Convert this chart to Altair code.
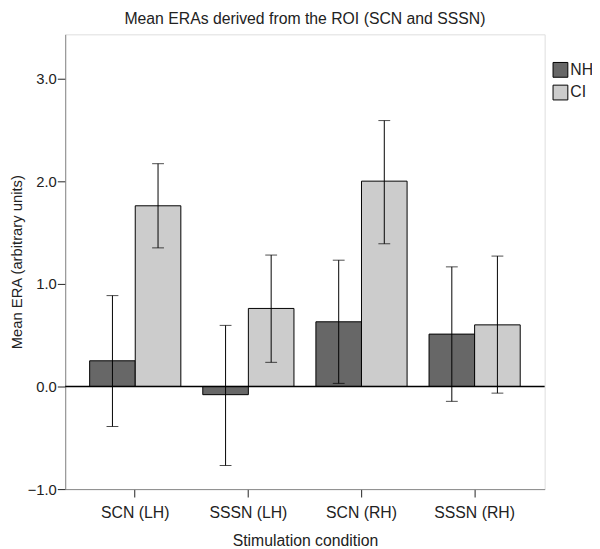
import altair as alt
import pandas as pd

conditions = ["SCN (LH)", "SSSN (LH)", "SCN (RH)", "SSSN (RH)"]
groups = ["NH", "CI"]
nh_mean = [0.25, -0.08, 0.63, 0.51]
nh_lo = [-0.39, -0.77, 0.03, -0.145]
nh_hi = [0.885, 0.595, 1.23, 1.165]
ci_mean = [1.76, 0.76, 2.0, 0.60]
ci_lo = [1.35, 0.235, 1.39, -0.065]
ci_hi = [2.17, 1.28, 2.59, 1.27]
y_ticks = [-1, 0, 1, 2, 3]
colors = ["#676767", "#cccccc"]

rows = []
for i, c in enumerate(conditions):
    rows.append({"cond": c, "group": "NH", "mean": nh_mean[i], "lo": nh_lo[i], "hi": nh_hi[i]})
    rows.append({"cond": c, "group": "CI", "mean": ci_mean[i], "lo": ci_lo[i], "hi": ci_hi[i]})
df = pd.DataFrame(rows)

FONT = "Liberation Sans"
TXT = "#222222"

x_enc = alt.X("cond:N", sort=conditions, title="Stimulation condition",
              scale=alt.Scale(paddingInner=0.194, paddingOuter=0.216),
              axis=alt.Axis(labelAngle=0, domainColor="#888888", tickColor="#222222",
                            tickSize=8, labelPadding=8, labelFontSize=16, titleFontSize=16,
                            titleFontWeight="normal", titlePadding=12, labelColor=TXT,
                            titleColor=TXT, labelFont=FONT, titleFont=FONT))
xo = alt.XOffset("group:N", sort=groups, scale=alt.Scale(paddingInner=0, paddingOuter=0))
y_scale = alt.Scale(domain=[-1, 3.43], nice=False, zero=False)

base = alt.Chart(df)

bars = base.mark_bar(stroke="black", strokeWidth=1).encode(
    x=x_enc,
    xOffset=xo,
    y=alt.Y("mean:Q", scale=y_scale, title="Mean ERA (arbitrary units)",
            axis=alt.Axis(values=y_ticks, format=".1f", grid=False, domainColor="#888888",
                          tickColor="#222222", tickSize=8, labelPadding=1,
                          labelFontSize=15, titleFontSize=15, titleFontWeight="normal",
                          titlePadding=3, labelColor=TXT, titleColor=TXT,
                          labelFont=FONT, titleFont=FONT)),
    color=alt.Color("group:N", sort=groups,
                    scale=alt.Scale(domain=groups, range=colors),
                    legend=alt.Legend(title=None, orient="none", legendX=494, legendY=28,
                                      symbolType="square", symbolSize=225,
                                      symbolStrokeColor="black", symbolStrokeWidth=1,
                                      symbolOpacity=1, labelFontSize=16, labelFont=FONT,
                                      labelColor=TXT, rowPadding=3, labelOffset=2)),
)

zero = alt.Chart(pd.DataFrame({"v": [0]})).mark_rule(color="black", strokeWidth=1.5).encode(
    y=alt.Y("v:Q", scale=y_scale)
)

err = base.mark_rule(color="black", strokeWidth=1).encode(
    x=alt.X("cond:N", sort=conditions),
    xOffset=xo,
    y=alt.Y("lo:Q", scale=y_scale),
    y2="hi:Q",
)

cap_lo = base.mark_tick(color="black", size=12, thickness=1, orient="horizontal").encode(
    x=alt.X("cond:N", sort=conditions), xOffset=xo, y=alt.Y("lo:Q", scale=y_scale)
)
cap_hi = base.mark_tick(color="black", size=12, thickness=1, orient="horizontal").encode(
    x=alt.X("cond:N", sort=conditions), xOffset=xo, y=alt.Y("hi:Q", scale=y_scale)
)

chart = alt.layer(bars, zero, err, cap_lo, cap_hi).properties(
    width=486, height=461,
    title=alt.TitleParams("Mean ERAs derived from the ROI (SCN and SSSN)", fontSize=16,
                          fontWeight="normal", font=FONT, color=TXT, offset=7,
                          anchor="middle"),
    padding={"left": 58, "top": 23, "right": 48, "bottom": 57},
    autosize="none",
).configure_view(stroke=None).configure(background="white")

chart.save("out.html", embed_options={"renderer": "svg", "actions": False})
